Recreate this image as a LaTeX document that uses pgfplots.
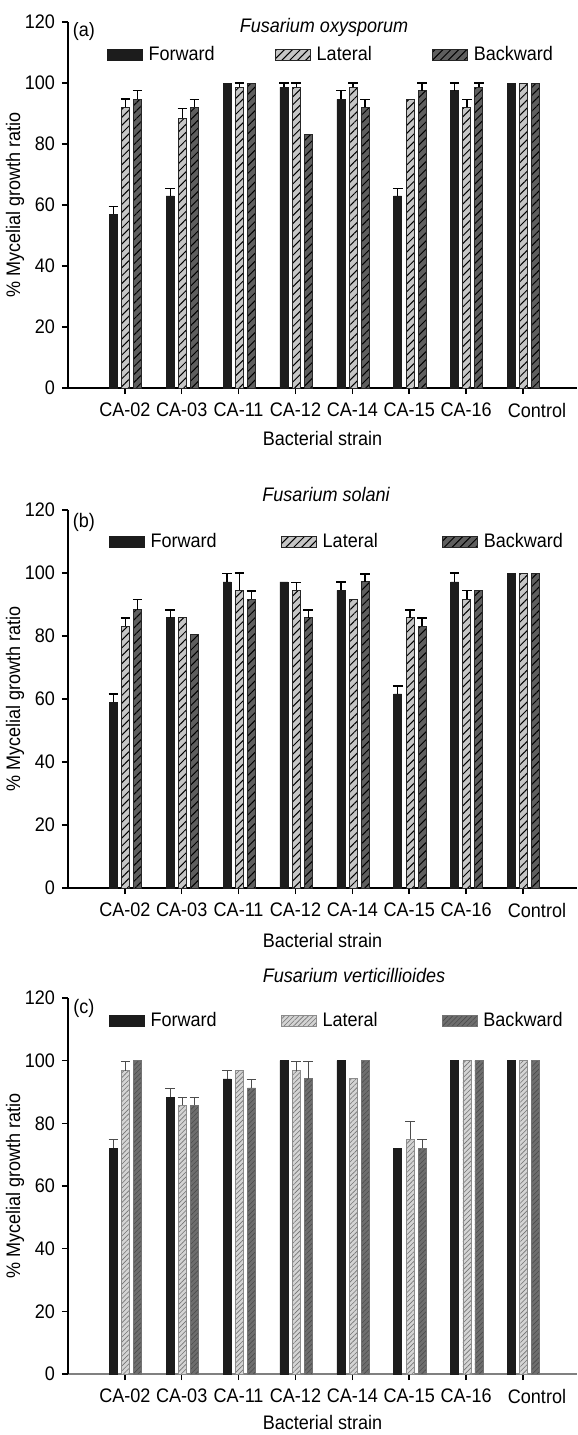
\documentclass[border=0pt]{standalone}
\usepackage{fontspec}
\setmainfont{Liberation Sans}[FakeStretch=0.92]
\usepackage{pgfplots}
\pgfplotsset{compat=1.18}
\usetikzlibrary{patterns.meta}

\definecolor{fwdcol}{HTML}{1C1C1C}
\definecolor{latcol}{HTML}{C6C6C6}
\definecolor{bwdcol}{HTML}{5E5E5E}
\definecolor{latcolc}{HTML}{D4D4D4}
\definecolor{bwdcolc}{HTML}{6E6E6E}

\newcommand{\fs}{\fontsize{9.8}{11}\selectfont}

\pgfplotsset{
  panel/.style={
    scale only axis, width=254.5pt,
    xmin=-1, xmax=7.95, ymin=0, ymax=120,
    ytick={0,20,40,60,80,100,120}, xtick={0,1,2,3,4,5,6,7},
    xticklabels={CA-02,CA-03,CA-11,CA-12,CA-14,CA-15,CA-16,\hspace*{14pt}Control},
    axis x line*=bottom, axis y line*=left,
    axis line style={-, line width=0.75pt, black},
    tick align=outside, major tick length=3pt,
    tick style={black, line width=0.75pt},
    /pgf/number format/assume math mode=true,
    tick label style={font=\fs},
    xticklabel style={yshift=-1pt},
    label style={font=\fs},
    title style={font=\fs\itshape, anchor=center, yshift=-6pt},
    xlabel={Bacterial strain},
    ylabel={\% Mycelial growth ratio},
    ylabel style={at={(axis description cs:-0.104,0.5)}, anchor=center},
    ybar, bar width=4pt,
    legend columns=3,
    legend style={draw=none, fill=none, inner sep=0pt, outer sep=0pt, anchor=west,
      nodes={inner sep=0pt, font=\fs},
      /tikz/every odd column/.append style={column sep=3pt}},
  },
  lgd/.style={legend image code/.code={\draw[##1] (0pt,-2.75pt) rectangle (17.5pt,2.75pt);}},
  fwd/.style={fill=fwdcol, draw=fwdcol, line width=0.3pt, bar shift=-5.75pt, lgd},
  lat/.style={fill=latcol, draw=black!85, line width=0.5pt, bar shift=0.4pt, lgd,
    postaction={pattern={Lines[angle=45,distance=2.8pt,line width=0.5pt]}}},
  bwd/.style={fill=bwdcol, draw=black!85, line width=0.5pt, bar shift=6.4pt, lgd,
    postaction={pattern={Lines[angle=45,distance=2.8pt,line width=0.5pt]}}},
  fwdc/.style={fill=fwdcol, draw=fwdcol, line width=0.3pt, bar shift=-5.75pt, lgd},
  latc/.style={fill=latcolc, draw=black!45, line width=0.4pt, bar shift=0.4pt, lgd,
    postaction={pattern={Lines[angle=45,distance=1.7pt,line width=0.3pt]}, pattern color=black!55}},
  bwdc/.style={fill=bwdcolc, draw=black!55, line width=0.4pt, bar shift=6.4pt, lgd,
    postaction={pattern={Lines[angle=45,distance=1.7pt,line width=0.3pt]}, pattern color=black!70}},
  errs/.style={forget plot, draw=none, fill=none, bar shift=#1,
    error bars/.cd, y dir=plus, y explicit,
    error bar style={draw=black, line width=0.7pt},
    error mark options={draw=black, rotate=90, mark size=2.4pt, line width=0.7pt}},
  errsc/.style={forget plot, draw=none, fill=none, bar shift=#1,
    error bars/.cd, y dir=plus, y explicit,
    error bar style={draw=black!70, line width=0.45pt},
    error mark options={draw=black!70, rotate=90, mark size=2.4pt, line width=0.45pt}},
}

\begin{document}
\begin{tikzpicture}
\path[use as bounding box] (0,0) rectangle (289pt,-717.5pt);

% ---------------- (a) ----------------
\begin{axis}[panel, at={(34pt,-194pt)}, anchor=south west, height=183pt,
  title={Fusarium oxysporum},
  title style={at={(axis description cs:0.503,0.984)}},
  xlabel style={at={(axis description cs:0.5,-0.137)}, anchor=center},
  legend style={at={(axis description cs:0.0766,0.91)},
    /tikz/every even column/.append style={column sep=30pt}}]
\addplot[fwd] coordinates {(0,57) (1,63) (2,100) (3,98.6) (4,94.6) (5,63) (6,97.5) (7,100)};
\addplot[lat] coordinates {(0,92) (1,88.5) (2,98.6) (3,98.6) (4,98.6) (5,94.6) (6,92) (7,100)};
\addplot[bwd] coordinates {(0,94.6) (1,92) (2,100) (3,83) (4,92) (5,97.5) (6,98.6) (7,100)};
\legend{Forward,Lateral,Backward}
\addplot[errs=-5.75pt] coordinates {(0,57) +- (0,2.6) (1,63) +- (0,2.5) (3,98.6) +- (0,1.4) (4,94.6) +- (0,2.9) (5,63) +- (0,2.5) (6,97.5) +- (0,2.5)};
\addplot[errs=0.4pt] coordinates {(0,92) +- (0,2.7) (1,88.5) +- (0,3.2) (2,98.6) +- (0,1.4) (3,98.6) +- (0,1.4) (4,98.6) +- (0,1.4) (6,92) +- (0,2.6)};
\addplot[errs=6.4pt] coordinates {(0,94.6) +- (0,2.9) (1,92) +- (0,2.6) (4,92) +- (0,2.6) (5,97.5) +- (0,2.5) (6,98.6) +- (0,1.4)};
\node[font=\fs] at (axis description cs:0.031,0.973) {(a)};
\end{axis}

% ---------------- (b) ----------------
\begin{axis}[panel, at={(34pt,-444pt)}, anchor=south west, height=189pt,
  title={Fusarium solani},
  title style={at={(axis description cs:0.507,1.04)}},
  xlabel style={at={(axis description cs:0.5,-0.140)}, anchor=center},
  legend style={at={(axis description cs:0.0805,0.915)},
    /tikz/every even column/.append style={column sep=32pt}}]
\addplot[fwd] coordinates {(0,59) (1,85.8) (2,97.2) (3,97.2) (4,94.5) (5,61.6) (6,97.2) (7,100)};
\addplot[lat] coordinates {(0,83.1) (1,85.8) (2,94.5) (3,94.5) (4,91.7) (5,85.8) (6,91.7) (7,100)};
\addplot[bwd] coordinates {(0,88.4) (1,80.4) (2,91.7) (3,85.8) (4,97.2) (5,83.1) (6,94.5) (7,100)};
\legend{Forward,Lateral,Backward}
\addplot[errs=-5.75pt] coordinates {(0,59) +- (0,2.6) (1,85.8) +- (0,2.5) (2,97.2) +- (0,2.6) (4,94.5) +- (0,2.6) (5,61.6) +- (0,2.5) (6,97.2) +- (0,2.8)};
\addplot[errs=0.4pt] coordinates {(0,83.1) +- (0,2.6) (2,94.5) +- (0,5.5) (3,94.5) +- (0,2.5) (5,85.8) +- (0,2.5) (6,91.7) +- (0,2.8)};
\addplot[errs=6.4pt] coordinates {(0,88.4) +- (0,3.2) (2,91.7) +- (0,2.6) (3,85.8) +- (0,2.5) (4,97.2) +- (0,2.5) (5,83.1) +- (0,2.6)};
\node[font=\fs] at (axis description cs:0.031,0.966) {(b)};
\end{axis}

% ---------------- (c) ----------------
\begin{axis}[panel, at={(34pt,-687pt)}, anchor=south west, height=188pt,
  title={Fusarium verticillioides},
  title style={at={(axis description cs:0.562,1.061)}},
  x axis line style={black!50},
  xlabel style={at={(axis description cs:0.5,-0.130)}, anchor=center},
  legend style={at={(axis description cs:0.0805,0.939)},
    /tikz/every even column/.append style={column sep=32pt}}]
\addplot[fwdc] coordinates {(0,72.1) (1,88.4) (2,94.2) (3,100) (4,100) (5,72.1) (6,100) (7,100)};
\addplot[latc] coordinates {(0,96.8) (1,85.7) (2,96.8) (3,96.8) (4,94.2) (5,75) (6,100) (7,100)};
\addplot[bwdc] coordinates {(0,100) (1,85.7) (2,91.3) (3,94.2) (4,100) (5,72.1) (6,100) (7,100)};
\legend{Forward,Lateral,Backward}
\addplot[errsc=-5.75pt] coordinates {(0,72.1) +- (0,2.9) (1,88.4) +- (0,2.8) (2,94.2) +- (0,2.6)};
\addplot[errsc=0.4pt] coordinates {(0,96.8) +- (0,2.9) (1,85.7) +- (0,2.7) (3,96.8) +- (0,2.9) (5,75) +- (0,5.5)};
\addplot[errsc=6.4pt] coordinates {(1,85.7) +- (0,2.7) (2,91.3) +- (0,2.8) (3,94.2) +- (0,5.5) (5,72.1) +- (0,2.9)};
\node[font=\fs] at (axis description cs:0.031,0.973) {(c)};
\end{axis}
\end{tikzpicture}
\end{document}
